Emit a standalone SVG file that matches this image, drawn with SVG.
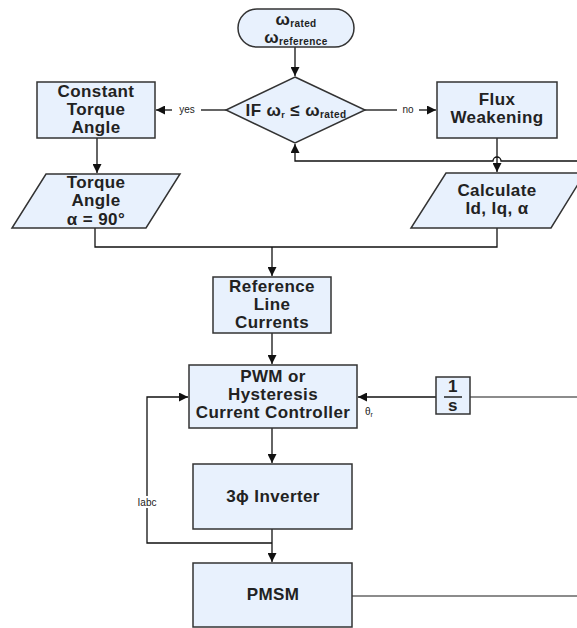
<svg xmlns="http://www.w3.org/2000/svg" width="577" height="628" viewBox="0 0 577 628">
<style>
.n{fill:#e8f1fd;stroke:#333;stroke-width:1.5}
.t{font-family:"Liberation Sans",Arial,sans-serif;font-weight:bold;font-size:17px;letter-spacing:0.4px;fill:#222;text-anchor:middle}
.s{font-family:"Liberation Sans",Arial,sans-serif;font-size:10px;fill:#222;text-anchor:middle}
.c{fill:none;stroke:#111;stroke-width:1.3}
.g{fill:none;stroke:#666;stroke-width:1.5}
</style>
<defs>
<marker id="a" viewBox="0 0 10 10" refX="10" refY="5" markerWidth="9" markerHeight="9" markerUnits="userSpaceOnUse" orient="auto">
<path d="M0,0 L10,5 L0,10 z" fill="#111"/>
</marker>
</defs>
<rect width="577" height="628" fill="#fff"/>
<g id="connectors">
<path class="c" d="M295,47 V76" marker-end="url(#a)"/>
<path class="c" d="M226,110 H201"/>
<path class="c" d="M172,110 H156" marker-end="url(#a)"/>
<path class="c" d="M365,110 H397"/>
<path class="c" d="M419,110 H436" marker-end="url(#a)"/>
<path class="c" d="M97,138 V173" marker-end="url(#a)"/>
<path class="c" d="M497,138 V172" marker-end="url(#a)"/>
<path class="c" d="M577,161 H501 A4,4 0 0 0 493,161 H295 V144" marker-end="url(#a)"/>
<path class="c" d="M95,228 V247 H497 V228"/>
<path class="c" d="M272,247 V276" marker-end="url(#a)"/>
<path class="c" d="M272,333 V364" marker-end="url(#a)"/>
<path class="c" d="M272,428 V463" marker-end="url(#a)"/>
<path class="c" d="M272,529 V562" marker-end="url(#a)"/>
<path class="c" d="M272,543 H147 V397 H188" marker-end="url(#a)"/>
<path class="c" d="M436,397 H358" marker-end="url(#a)"/>
<path class="g" d="M470,397 H577"/>
<path class="g" d="M352,596 H577"/>
<rect x="137" y="496" width="20" height="12" fill="#fff"/>
<text class="s" x="147" y="506">Iabc</text>
<rect x="174" y="103" width="26" height="13" fill="#fff"/>
<text class="s" x="187" y="113">yes</text>
<rect x="398" y="103" width="20" height="13" fill="#fff"/>
<text class="s" x="408" y="113">no</text>
<text class="s" x="369" y="415">θ<tspan font-size="7" dy="2">r</tspan></text>
</g>
<g id="start">
<rect class="n" x="238" y="9" width="116" height="38" rx="19"/>
<text class="t" x="296" y="25" font-size="17">ω<tspan font-size="10" dy="2">rated</tspan></text>
<text class="t" x="296" y="43" font-size="17">ω<tspan font-size="10" dy="2">reference</tspan></text>
</g>
<g id="decision">
<path class="n" d="M295,77 L365,110 L295,143 L226,110 Z"/>
<text class="t" x="296" y="116">IF ω<tspan font-size="9" dy="2">r</tspan><tspan dy="-2"> ≤ ω</tspan><tspan font-size="10" dy="2">rated</tspan></text>
</g>
<g id="constant">
<rect class="n" x="37" y="82" width="118" height="56"/>
<text class="t" x="96" y="97">Constant</text>
<text class="t" x="96" y="115">Torque</text>
<text class="t" x="96" y="133">Angle</text>
</g>
<g id="flux">
<rect class="n" x="437" y="82" width="120" height="56"/>
<text class="t" x="497" y="105">Flux</text>
<text class="t" x="497" y="123">Weakening</text>
</g>
<g id="torque">
<path class="n" d="M46,174 H180 L146,228 H12 Z"/>
<text class="t" x="96" y="188">Torque</text>
<text class="t" x="96" y="206">Angle</text>
<text class="t" x="96" y="225">α = 90°</text>
</g>
<g id="calculate">
<path class="n" d="M446,173 H585 L551,228 H411 Z"/>
<text class="t" x="497" y="196">Calculate</text>
<text class="t" x="497" y="214">Id, Iq, α</text>
</g>
<g id="reference">
<rect class="n" x="213" y="277" width="118" height="56"/>
<text class="t" x="272" y="292">Reference</text>
<text class="t" x="272" y="310">Line</text>
<text class="t" x="272" y="328">Currents</text>
</g>
<g id="pwm">
<rect class="n" x="189" y="365" width="168" height="63"/>
<text class="t" x="273" y="382">PWM or</text>
<text class="t" x="273" y="400">Hysteresis</text>
<text class="t" x="273" y="418">Current Controller</text>
</g>
<g id="integrator">
<rect class="n" x="436" y="377" width="34" height="37"/>
<text class="t" x="453" y="392">1</text>
<path d="M444,397 H462" stroke="#222" stroke-width="1.5"/>
<text class="t" x="453" y="411">s</text>
</g>
<g id="inverter">
<rect class="n" x="193" y="464" width="159" height="65"/>
<text class="t" x="273" y="502">3ϕ Inverter</text>
</g>
<g id="pmsm">
<rect class="n" x="193" y="563" width="159" height="64"/>
<text class="t" x="273" y="600">PMSM</text>
</g>
</svg>
